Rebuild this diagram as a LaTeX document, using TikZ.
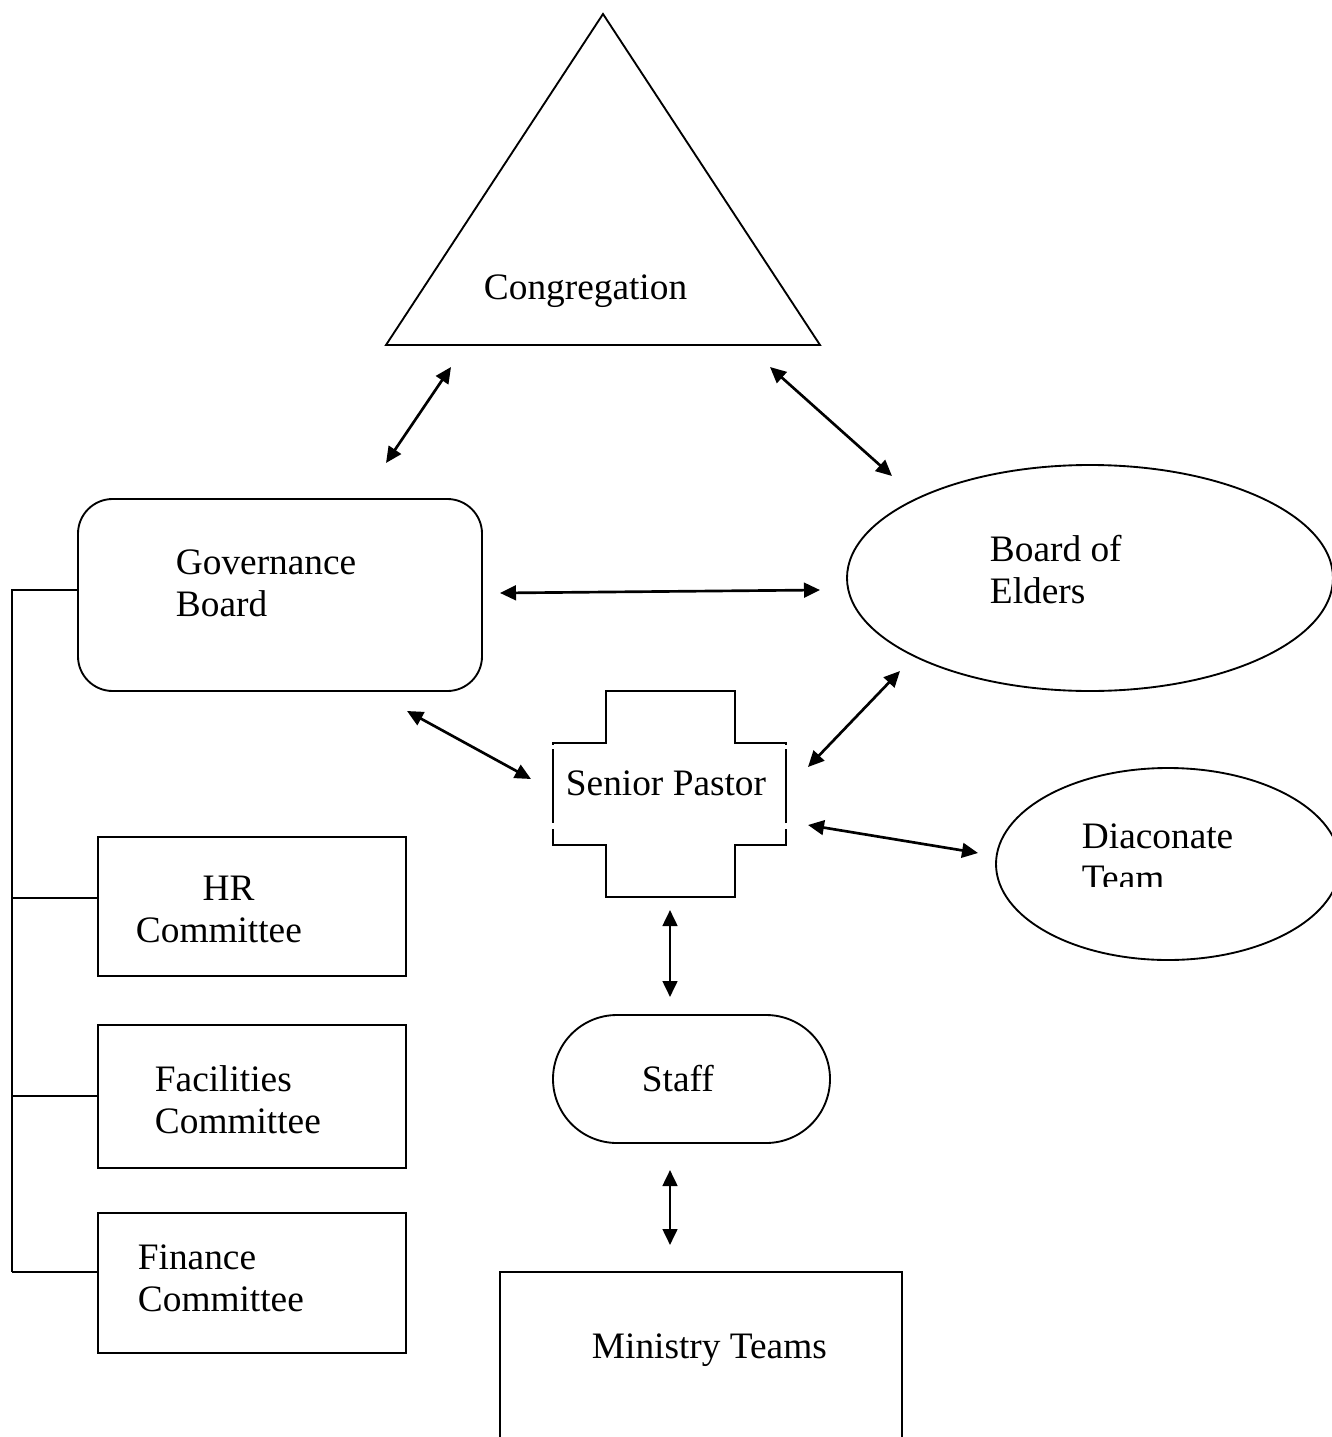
\documentclass[tikz,border=0pt]{standalone}
\usepackage{fontspec}
\setmainfont{Liberation Serif}
\usetikzlibrary{arrows.meta}

\begin{document}
\begin{tikzpicture}[x=0.375pt, y=-0.375pt, line width=0.7pt,
		every node/.style={font=\fontsize{14}{15.75}\selectfont, inner sep=0pt},
		lbl/.style={anchor=base west, align=left},
		link/.style={{Triangle[length=6pt,width=5.5pt]}-{Triangle[length=6pt,width=5.5pt]}, line width=1pt}]
		\useasboundingbox (0,0) rectangle (1332,1437);
		\clip (0,0) rectangle (1332,1437);

		% shapes
		\draw (603,14) -- (820,345) -- (386,345) -- cycle;
		\draw[rounded corners=13pt] (78,499) rectangle (482,691);
		\draw (1090,578) ellipse [x radius=243, y radius=113];
		\draw (1168,864) ellipse [x radius=172, y radius=96];
		\draw (553,749) -- (553,823);
		\draw (553,829) -- (553,845) -- (606,845) -- (606,897) -- (735,897) -- (735,845) -- (786,845) -- (786,829);
		\draw (786,823) -- (786,749);
		\draw (786,745) -- (786,743) -- (735,743) -- (735,691) -- (606,691) -- (606,743) -- (553,743) -- (553,745);
		\draw[rounded corners=24pt] (553,1015) rectangle (830,1143);
		\draw (500,1272) rectangle (902,1460);

		\foreach \y/\h in {837/976, 1025/1168, 1213/1353} {
			\draw (98,\y) rectangle (406,\h);
		}
		\draw (78,590) -- (12,590) -- (12,1272);
		\foreach \y in {898, 1096, 1272} {
			\draw (12,\y) -- (98,\y);
		}

		% labels (two-line labels sit on their last baseline)
		\node[lbl] (cong) at (483,299) {Congregation};
		\node[lbl] (gov) at (175,616) {Governance\\Board};
		\node[lbl] (elders) at (989,603) {Board of\\Elders};
		\node[lbl] (pastor) at (565,795) {Senior Pastor};
		\begin{scope}
			\clip (996,760) rectangle (1332,886);
			\node[lbl] (diac) at (1081,890) {Diaconate\\Team};
		\end{scope}
		\node[lbl] (hr) at (135,942) {\hspace{25pt}HR\\Committee};
		\node[lbl] (fac) at (154,1133) {Facilities\\Committee};
		\node[lbl] (fin) at (137,1311) {Finance\\Committee};
		\node[lbl] (staff) at (641,1091) {Staff};
		\node[lbl] (ministry) at (591,1358) {Ministry Teams};

		% arrow ends
		\coordinate (gcA) at (386,463);
		\coordinate (gcB) at (451,367);
		\coordinate (ceA) at (770,367);
		\coordinate (ceB) at (892,476);
		\coordinate (geA) at (500,593);
		\coordinate (geB) at (820,590);
		\coordinate (gpA) at (407,711);
		\coordinate (gpB) at (531,779);
		\coordinate (peA) at (808,767);
		\coordinate (peB) at (900,671);
		\coordinate (pdA) at (808,825);
		\coordinate (pdB) at (978,853);
		\coordinate (psA) at (670,910);
		\coordinate (psB) at (670,997);
		\coordinate (smA) at (670,1170);
		\coordinate (smB) at (670,1245);

		\foreach \a/\b in {gcA/gcB, ceA/ceB, geA/geB, gpA/gpB, peA/peB, pdA/pdB, psA/psB, smA/smB} {
			\draw[link] (\a) -- (\b);
		}
	\end{tikzpicture}
\end{document}
